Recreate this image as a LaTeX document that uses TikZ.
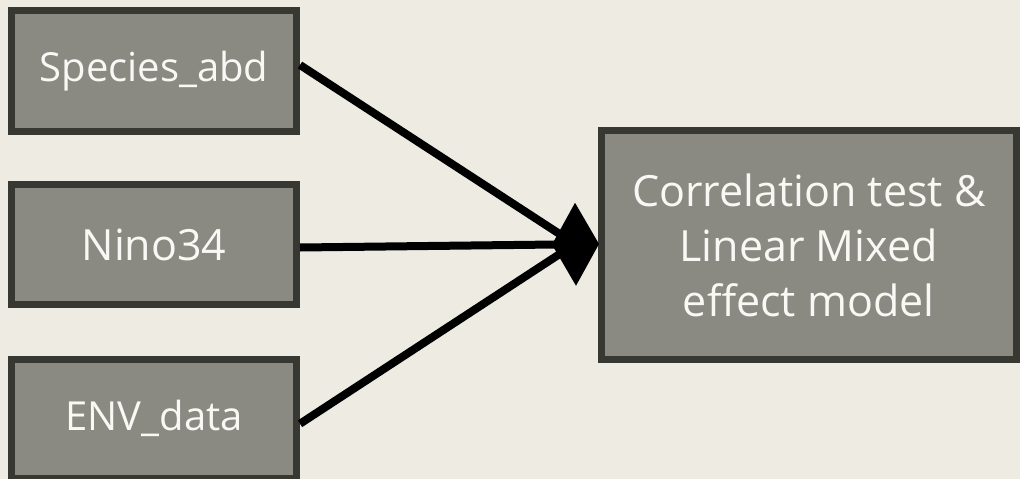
\documentclass[tikz,border=0pt]{standalone}
\usepackage{fontspec}
\setmainfont{Open Sans}
\usetikzlibrary{arrows.meta}
\definecolor{paper}{HTML}{EEEBE3}
\definecolor{boxfill}{HTML}{8A8A83}
\definecolor{boxedge}{HTML}{383833}
\definecolor{boxtext}{HTML}{F8F8F4}
\tikzset{
  databox/.style={draw=boxedge, fill=boxfill, line width=7pt, text=boxtext,
    inner sep=0pt, font=\fontsize{40}{48}\selectfont},
  modelbox/.style={databox, align=center, font=\fontsize{43}{55}\selectfont},
  link/.style={draw=black, line width=8pt},
  hubtip/.style={link, -{Diamond[length=47pt,width=83pt]}}
}
\begin{document}
\begin{tikzpicture}[x=1pt,y=-1pt]
  \fill[paper] (0,0) rectangle (1020,479);
  \useasboundingbox (0,0) rectangle (1020,479);

  % input boxes
  \node[databox, minimum width=285pt, minimum height=121pt] (spec) at (154,71)
    {\raisebox{-3pt}{Species\_abd}};
  \node[databox, minimum width=285pt, minimum height=120pt, font=\fontsize{43}{50}\selectfont]
    (nino) at (154,244.5) {Nino34};
  \node[databox, minimum width=285pt, minimum height=119.5pt] (env) at (154,418.75) {ENV\_data};

  % model box
  \node[modelbox, minimum width=415.5pt, minimum height=229pt] (model) at (808.75,245)
    {Correlation test \&\\Linear Mixed\\effect model};

  % meeting point of the three connectors
  \coordinate (hub) at (575,244);
  \coordinate (tip) at (599,244);

  \draw[link] ([yshift=6pt]spec.east) -- (hub);
  \draw[link] ([yshift=-5pt]env.east) -- (hub);
  \draw[hubtip] ([yshift=-3pt]nino.east) -- (tip);
\end{tikzpicture}
\end{document}
